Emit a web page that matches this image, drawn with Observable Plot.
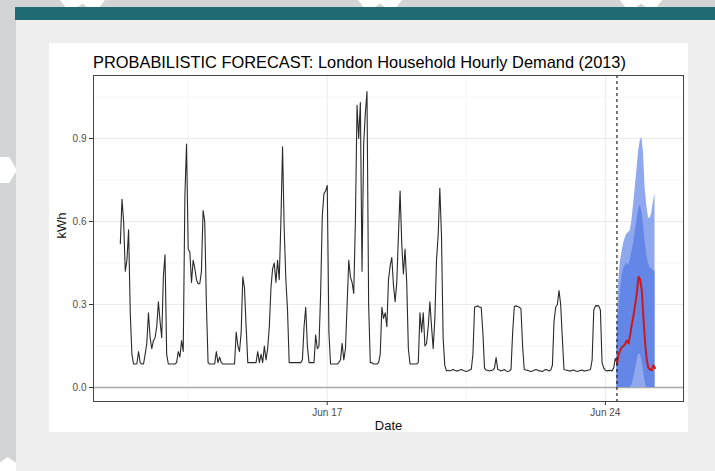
<!DOCTYPE html>
<html><head><meta charset="utf-8">
<script src="https://cdn.jsdelivr.net/npm/d3@7"></script>
<script src="https://cdn.jsdelivr.net/npm/@observablehq/plot@0.6"></script>
<style>
html,body{margin:0;padding:0;}
body{width:715px;height:471px;background:#d3d4d6;position:relative;overflow:hidden;font-family:"Liberation Sans",Arial,sans-serif;}
.abs{position:absolute;}
.hex{background:#ffffff;}
#teal{left:15px;top:7px;width:700px;height:13px;background:#1f6b74;}
#slide{left:16px;top:20px;width:699px;height:451px;background:#eeeeee;}
#panel{left:49px;top:43px;width:639px;height:389px;background:#ffffff;overflow:hidden;}
#title{left:44px;top:10px;font-size:16.4px;line-height:18px;color:#000;white-space:nowrap;}
#chart{position:absolute;left:0;top:0;}
</style></head><body>
<div class="abs hex" style="left:60px;top:0;width:45px;height:8px;clip-path:polygon(0 0,100% 0,86% 100%,64% 100%,50% 45%,36% 100%,14% 100%)"></div>
<div class="abs hex" style="left:358px;top:0;width:44px;height:8px;clip-path:polygon(0 0,100% 0,86% 100%,64% 100%,50% 45%,36% 100%,14% 100%)"></div>
<div class="abs hex" style="left:620px;top:0;width:42px;height:8px;clip-path:polygon(0 0,100% 0,86% 100%,64% 100%,50% 45%,36% 100%,14% 100%)"></div>
<div class="abs hex" style="left:0;top:157px;width:17px;height:26px;clip-path:polygon(0 0,55% 0,100% 50%,55% 100%,0 100%)"></div>
<div class="abs hex" style="left:0;top:457px;width:17px;height:14px;clip-path:polygon(0 100%,0 40%,45% 0,100% 45%,100% 100%)"></div>
<div id="teal" class="abs"></div>
<div id="slide" class="abs"></div>
<div id="panel" class="abs">
  <div id="title" class="abs">PROBABILISTIC FORECAST: London Household Hourly Demand (2013)</div>
  <div id="chart"></div>
</div>
<script>
// Observed hourly demand (kWh), starting Jun 11 2013 19:00
const observedStart = "2013-06-11T19:00:00Z";
const demandKWh = [
  0.52, 0.68, 0.60, 0.42, 0.46,
  0.57, 0.27, 0.12, 0.085, 0.085, 0.085, 0.13, 0.09, 0.085, 0.085, 0.12, 0.16, 0.27, 0.18, 0.14, 0.17, 0.18, 0.22, 0.31, 0.24, 0.18, 0.40, 0.48, 0.12,
  0.085, 0.085, 0.085, 0.085, 0.085, 0.09, 0.13, 0.11, 0.17, 0.13, 0.69, 0.88, 0.50, 0.49, 0.38, 0.46, 0.43, 0.39, 0.375, 0.375, 0.42, 0.64, 0.60, 0.30,
  0.09, 0.085, 0.085, 0.085, 0.085, 0.13, 0.09, 0.11, 0.09, 0.085, 0.085, 0.085, 0.085, 0.085, 0.085, 0.085, 0.085, 0.20, 0.15, 0.13, 0.20, 0.40, 0.36, 0.22,
  0.09, 0.09, 0.09, 0.09, 0.09, 0.09, 0.13, 0.09, 0.12, 0.09, 0.15, 0.10, 0.14, 0.22, 0.36, 0.43, 0.45, 0.38, 0.46, 0.39, 0.60, 0.87, 0.57, 0.39,
  0.28, 0.09, 0.09, 0.09, 0.09, 0.09, 0.09, 0.09, 0.09, 0.10, 0.22, 0.29, 0.15, 0.09, 0.09, 0.09, 0.09, 0.19, 0.14, 0.15, 0.34, 0.62, 0.70, 0.71,
  0.73, 0.20, 0.085, 0.085, 0.085, 0.085, 0.085, 0.09, 0.10, 0.16, 0.10, 0.14, 0.30, 0.46, 0.40, 0.38, 0.34, 0.60, 1.02, 0.90, 1.03, 0.42, 0.88, 0.99,
  1.07, 0.30, 0.09, 0.09, 0.085, 0.085, 0.085, 0.09, 0.12, 0.29, 0.25, 0.27, 0.22, 0.39, 0.44, 0.47, 0.37, 0.31, 0.38, 0.55, 0.71, 0.52, 0.41, 0.50,
  0.38, 0.14, 0.085, 0.085, 0.085, 0.085, 0.085, 0.09, 0.27, 0.20, 0.27, 0.15, 0.16, 0.22, 0.31, 0.22, 0.14, 0.25, 0.46, 0.55, 0.72, 0.55, 0.18, 0.08,
  0.06, 0.062, 0.06, 0.062, 0.065, 0.062, 0.06, 0.06, 0.063, 0.065, 0.062, 0.06, 0.058, 0.06, 0.063, 0.065, 0.12, 0.29, 0.293, 0.295, 0.29, 0.29, 0.20, 0.07,
  0.063, 0.062, 0.06, 0.062, 0.063, 0.07, 0.108, 0.065, 0.063, 0.06, 0.062, 0.065, 0.06, 0.058, 0.06, 0.065, 0.20, 0.293, 0.295, 0.293, 0.29, 0.285, 0.15, 0.065,
  0.063, 0.062, 0.06, 0.058, 0.06, 0.062, 0.065, 0.063, 0.06, 0.06, 0.058, 0.062, 0.065, 0.063, 0.06, 0.063, 0.08, 0.24, 0.29, 0.30, 0.35, 0.30, 0.18, 0.065,
  0.063, 0.062, 0.06, 0.06, 0.062, 0.063, 0.06, 0.058, 0.06, 0.062, 0.063, 0.06, 0.06, 0.062, 0.063, 0.065, 0.10, 0.28, 0.295, 0.296, 0.295, 0.28, 0.09, 0.07,
  0.062, 0.06, 0.061, 0.062, 0.06, 0.07, 0.105, 0.09
];

// Forecast (hourly), starting Jun 24 2013 07:00
const forecastStart = "2013-06-24T07:00:00Z";
const forecastMedian = [0.085, 0.12, 0.134, 0.146, 0.15, 0.158, 0.17, 0.16, 0.19, 0.23, 0.26, 0.30, 0.34, 0.40, 0.39, 0.35, 0.25, 0.16, 0.10, 0.07, 0.065, 0.062, 0.08, 0.07];
const upper95 = [0.22, 0.38, 0.45, 0.49, 0.52, 0.54, 0.555, 0.56, 0.567, 0.60, 0.66, 0.72, 0.78, 0.85, 0.89, 0.905, 0.85, 0.72, 0.66, 0.615, 0.61, 0.63, 0.67, 0.70];
const lower95 = [0, 0, 0, 0, 0, 0, 0, 0, 0, 0, 0, 0, 0, 0, 0, 0, 0, 0, 0, 0, 0, 0, 0, 0];
const upper80 = [0.14, 0.26, 0.34, 0.40, 0.43, 0.44, 0.45, 0.44, 0.46, 0.49, 0.52, 0.56, 0.60, 0.64, 0.66, 0.64, 0.59, 0.53, 0.48, 0.45, 0.43, 0.43, 0.42, 0.42];
const lower80 = [0, 0, 0, 0, 0, 0, 0, 0, 0, 0.01, 0.03, 0.06, 0.09, 0.12, 0.12, 0.10, 0.06, 0.02, 0, 0, 0, 0, 0, 0];

const xTicks = ["2013-06-17T00:00:00Z", "2013-06-24T00:00:00Z"];
const xMinorTicks = ["2013-06-13T12:00:00Z", "2013-06-20T12:00:00Z"];
const yTicks = [0, 0.3, 0.6, 0.9];
const yMinorTicks = [0.15, 0.45, 0.75, 1.05];
const forecastOrigin = "2013-06-24T07:00:00Z";

const HOUR = 3600e3;
const obsT0 = Date.parse(observedStart);
const observed = demandKWh.map((v, i) => ({date: new Date(obsT0 + i * HOUR), kwh: v}));
const fcT0 = Date.parse(forecastStart);
const forecast = forecastMedian.map((v, i) => ({
  date: new Date(fcT0 + i * HOUR), median: v,
  lo80: lower80[i], hi80: upper80[i], lo95: lower95[i], hi95: upper95[i]
}));
const toDate = (s) => new Date(s);

const chart = Plot.plot({
  width: 639, height: 389,
  marginLeft: 44, marginRight: 5, marginTop: 32, marginBottom: 31,
  style: {fontFamily: "'Liberation Sans', Arial, sans-serif", background: "transparent", overflow: "hidden"},
  x: {type: "utc", domain: [new Date("2013-06-11T02:48:00Z"), new Date("2013-06-25T23:12:00Z")]},
  y: {domain: [-0.0506, 1.1277]},
  marks: [
    Plot.gridX(xMinorTicks.map(toDate), {stroke: "#f1f1f1", strokeOpacity: 1, strokeWidth: 0.7}),
    Plot.gridY(yMinorTicks, {stroke: "#f1f1f1", strokeOpacity: 1, strokeWidth: 0.7}),
    Plot.gridX(xTicks.map(toDate), {stroke: "#ebebeb", strokeOpacity: 1, strokeWidth: 1}),
    Plot.gridY(yTicks, {stroke: "#ebebeb", strokeOpacity: 1, strokeWidth: 1}),
    Plot.ruleY([0], {stroke: "#a9a9a9", strokeWidth: 1.5}),
    Plot.areaY(forecast, {x: "date", y1: "lo95", y2: "hi95", fill: "#8fa8ee"}),
    Plot.areaY(forecast, {x: "date", y1: "lo80", y2: "hi80", fill: "#6486e6"}),
    Plot.lineY(observed, {x: "date", y: "kwh", stroke: "#2a2a2a", strokeWidth: 1.1}),
    Plot.lineY(forecast, {x: "date", y: "median", stroke: "#cc1a1a", strokeWidth: 2}),
    Plot.ruleX([toDate(forecastOrigin)], {stroke: "#111", strokeWidth: 1.1, strokeDasharray: "3,3"}),
    Plot.axisX(xTicks.map(toDate), {tickFormat: d3.utcFormat("%b %d"), tickSize: 4, tickPadding: 3, fontSize: 10, color: "#4d4d4d", stroke: "#333", label: null}),
    Plot.axisY(yTicks, {tickFormat: d3.format(".1f"), tickSize: 4, tickPadding: 3, fontSize: 10, color: "#4d4d4d", stroke: "#333", label: null}),
    Plot.frame({stroke: "#444", strokeWidth: 1}),
    Plot.text(["kWh"], {frameAnchor: "left", dx: -32, rotate: -90, fontSize: 13, fill: "#111"}),
    Plot.text(["Date"], {frameAnchor: "bottom", dy: 24, lineAnchor: "middle", fontSize: 13, fill: "#111"})
  ]
});
document.getElementById("chart").appendChild(chart);
</script>
</body></html>
